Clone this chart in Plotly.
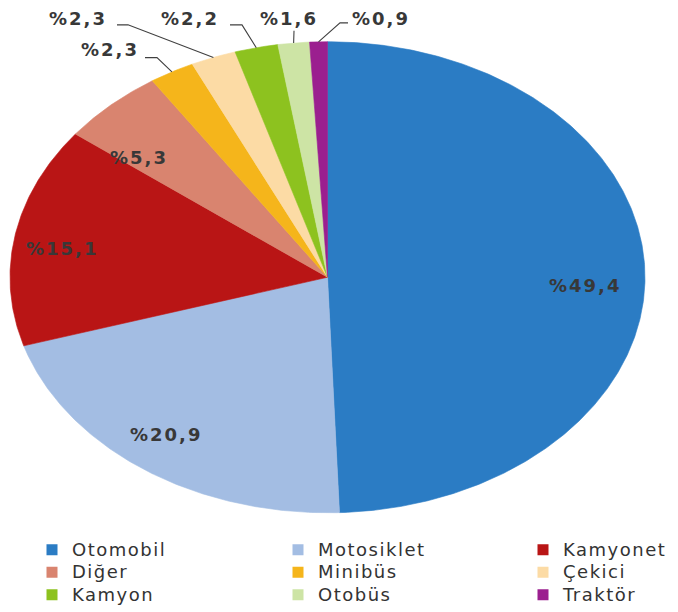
import numpy as np
import plotly.graph_objects as go

# ---------------- data ----------------
categories = ["Otomobil", "Motosiklet", "Kamyonet", "Diğer", "Minibüs",
              "Çekici", "Kamyon", "Otobüs", "Traktör"]
shares = [49.4, 20.9, 15.1, 5.3, 2.3, 2.3, 2.2, 1.6, 0.9]
share_labels = ["%49,4", "%20,9", "%15,1", "%5,3", "%2,3",
                "%2,3", "%2,2", "%1,6", "%0,9"]

# ---------------- styles / layout constants ----------------
colors = ["#2b7cc4", "#a3bde3", "#b91515", "#d9846f", "#f5b51b",
          "#fcdba5", "#8dc21f", "#cde4a5", "#9b1f8f"]
W, H = 678, 612
OFF = 8                      # page body margin of the html page
FW, FH = W - OFF, H - OFF    # figure size so it fits the window
CX, CY, RX, RY = 327.5, 279.5, 317.5, 237.5   # ellipse geometry (page pixels)
TEXT_COLOR = "#383838"
FONT = "DejaVu Sans"

# label anchor positions (page pixels) for each slice label
label_pos = [(585, 288), (166, 438), (62, 250), (139, 159),
             (110, 50), (78, 19), (190, 19), (289, 19), (381, 19)]
# leader lines for small slices: start point and elbow (None = straight)
leaders = {4: ((145, 58), (157, 58)),
           5: ((117, 25), (128, 25)),
           6: ((230, 25), (242, 25)),
           7: ((294, 31), None),
           8: ((348, 23), (340, 23))}


def ell(theta_deg, r=1.0):
    t = np.radians(theta_deg)
    return CX + r * RX * np.sin(t), CY - r * RY * np.cos(t)


fig = go.Figure()

total = sum(shares)
cum = np.concatenate([[0], np.cumsum(shares)]) / total * 360.0
legend_ids = ["legend", "legend2", "legend3"]

for i, (cat, val, col) in enumerate(zip(categories, shares, colors)):
    a0, a1 = cum[i], cum[i + 1]
    n = max(4, int((a1 - a0) * 2))
    th = np.linspace(a0, a1, n)
    ax, ay = ell(th)
    xs = np.concatenate([[CX], ax, [CX]])
    ys = np.concatenate([[CY], ay, [CY]])
    lg = legend_ids[i % 3]
    fig.add_trace(go.Scatter(
        x=xs, y=ys, mode="lines", fill="toself", fillcolor=col,
        line=dict(color=col, width=0.6), name=cat, legendgroup=cat,
        legend=lg, showlegend=False, hoveron="fills",
        text=f"{cat}: {share_labels[i]}", hoverinfo="text"))

# leader lines
for i, (start, elbow) in leaders.items():
    mid = (cum[i] + cum[i + 1]) / 2
    ex, ey = ell(mid)
    pts = [start] + ([elbow] if elbow else []) + [(ex, ey)]
    fig.add_trace(go.Scatter(
        x=[p[0] for p in pts], y=[p[1] for p in pts], mode="lines",
        line=dict(color="#404040", width=1.1), showlegend=False,
        hoverinfo="skip"))

# legend-only entries (square swatches)
for i, (cat, col) in enumerate(zip(categories, colors)):
    fig.add_trace(go.Scatter(
        x=[None], y=[None], mode="markers",
        marker=dict(symbol="square", size=11, color=col),
        name=f'<span style="font-size:18px;letter-spacing:1.5px">{cat}</span>',
        legendgroup=cat, legend=legend_ids[i % 3], showlegend=True))

# percentage labels
for i, txt in enumerate(share_labels):
    x, y = label_pos[i]
    fig.add_annotation(
        x=x, y=y, xref="x", yref="y", showarrow=False,
        xanchor="center", yanchor="middle",
        text=f'<b><span style="letter-spacing:2px">{txt}</span></b>',
        font=dict(family=FONT, size=18, color=TEXT_COLOR))

leg_common = dict(orientation="v", xanchor="left", yanchor="top",
                  y=1 - (538 - OFF) / FH, bgcolor="rgba(0,0,0,0)",
                  borderwidth=0,
                  font=dict(family=FONT, size=15, color="#333333"),
                  traceorder="normal", itemclick="toggle")

fig.update_layout(
    width=FW, height=FH, autosize=False,
    margin=dict(l=0, r=0, t=0, b=0),
    paper_bgcolor="white", plot_bgcolor="white",
    xaxis=dict(range=[OFF, W], visible=False, fixedrange=True),
    yaxis=dict(range=[H, OFF], visible=False, fixedrange=True),
    legend=dict(x=(72 - 40 - OFF) / FW, **leg_common),
    legend2=dict(x=(318 - 40 - OFF) / FW, **leg_common),
    legend3=dict(x=(563 - 40 - OFF) / FW, **leg_common),
    hovermode="closest",
)

fig.write_html("out.html")
